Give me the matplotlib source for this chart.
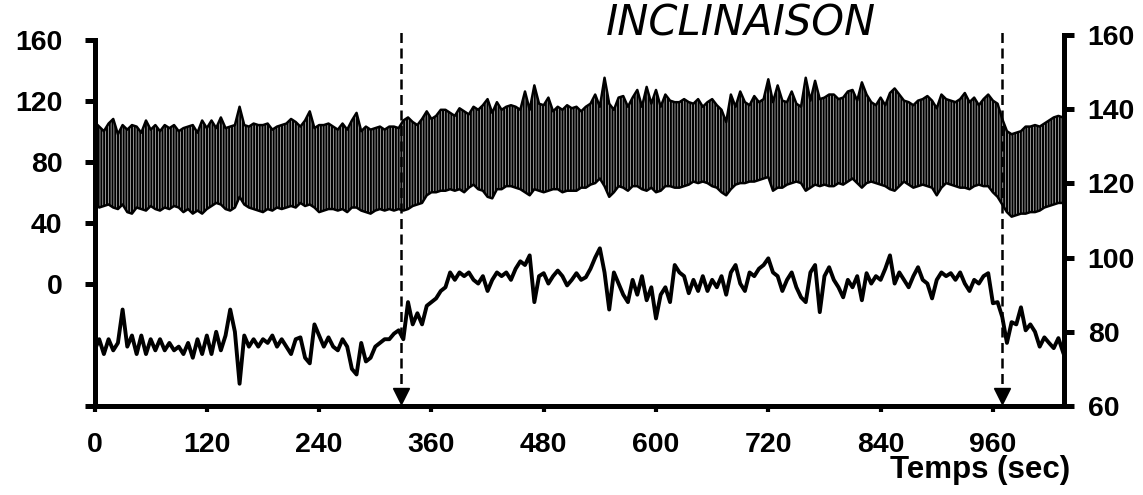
import numpy as np
import matplotlib
matplotlib.use("Agg")
import matplotlib.pyplot as plt
import matplotlib.transforms as mtransforms

# temps (sec), un point toutes les 5 s
step = 5

# pression artérielle : enveloppe systolique (mmHg)
sys_p = [
    106, 103, 100, 105, 108, 98, 104, 101, 104, 103, 99, 107,
    101, 104, 100, 104, 102, 104, 100, 102, 103, 104, 99, 107,
    102, 107, 102, 109, 102, 103, 104, 116, 104, 103, 105, 104,
    104, 105, 101, 103, 104, 105, 108, 106, 103, 107, 113, 102,
    104, 104, 105, 103, 101, 105, 101, 107, 112, 100, 103, 101,
    102, 103, 101, 103, 103, 102, 107, 109, 106, 104, 108, 113,
    108, 110, 114, 114, 112, 110, 115, 113, 111, 116, 114, 117,
    121, 112, 119, 114, 116, 117, 116, 114, 126, 114, 130, 118,
    117, 122, 113, 116, 114, 117, 115, 116, 113, 116, 118, 124,
    116, 135, 118, 114, 122, 123, 116, 122, 127, 116, 129, 118,
    127, 116, 124, 120, 119, 119, 121, 119, 118, 121, 116, 119,
    121, 117, 114, 106, 124, 116, 126, 119, 117, 123, 119, 121,
    134, 119, 130, 120, 119, 126, 118, 116, 135, 120, 133, 121,
    122, 124, 124, 121, 122, 126, 127, 120, 132, 124, 119, 117,
    122, 117, 125, 128, 124, 120, 119, 117, 120, 121, 123, 120,
    115, 124, 121, 120, 119, 121, 125, 119, 122, 117, 121, 124,
    120, 118, 108, 100, 98, 99, 100, 103, 103, 104, 103, 105,
    107, 109, 110, 109,
]

# pression artérielle : enveloppe diastolique (mmHg)
dia_p = [
    54, 50, 51, 52, 50, 49, 52, 47, 46, 50, 49, 48,
    51, 49, 48, 50, 49, 51, 50, 47, 49, 46, 48, 46,
    49, 51, 53, 52, 49, 48, 50, 57, 52, 50, 49, 48,
    47, 49, 48, 50, 49, 50, 51, 50, 53, 51, 52, 50,
    47, 48, 49, 49, 48, 49, 47, 50, 50, 48, 47, 46,
    48, 49, 48, 49, 48, 49, 48, 49, 51, 52, 53, 58,
    60, 60, 61, 61, 62, 61, 62, 60, 63, 65, 62, 61,
    57, 56, 62, 62, 64, 64, 63, 62, 60, 58, 62, 61,
    60, 61, 62, 62, 60, 61, 61, 61, 63, 63, 65, 66,
    69, 64, 57, 60, 64, 63, 61, 64, 64, 62, 61, 63,
    60, 61, 64, 64, 63, 63, 64, 65, 67, 66, 67, 66,
    64, 63, 60, 58, 62, 65, 66, 66, 67, 67, 68, 69,
    70, 61, 63, 63, 65, 66, 67, 66, 61, 63, 65, 64,
    65, 64, 64, 66, 65, 67, 69, 66, 63, 66, 67, 66,
    65, 64, 62, 61, 64, 67, 65, 63, 64, 65, 64, 63,
    58, 63, 66, 65, 64, 63, 63, 62, 64, 65, 64, 64,
    60, 57, 52, 47, 44, 45, 46, 46, 47, 47, 48, 50,
    51, 52, 53, 53,
]

# fréquence cardiaque (bpm), axe de droite
fc = [
    75, 78, 74, 78, 75, 77, 86, 76, 79, 74, 79, 74,
    78, 75, 78, 75, 77, 75, 76, 74, 77, 73, 78, 74,
    79, 74, 80, 75, 79, 86, 80, 66, 79, 76, 78, 76,
    78, 77, 79, 76, 78, 76, 74, 78, 78.5, 73, 71.5, 82,
    79, 76, 78.5, 76, 75, 78, 76, 70, 68.5, 77, 72, 73,
    76, 77, 78, 78, 79.5, 80.4, 78, 88, 82, 85, 82, 87,
    88, 89, 91, 92, 96, 94, 96, 95, 96, 94, 93, 95,
    91, 94, 96, 95, 96, 94, 97, 99, 98, 100.6, 88, 95,
    95.8, 93, 95, 96.5, 95, 92.5, 94, 95.8, 94, 94.7, 97, 100,
    102.5, 96, 86, 96, 93, 90, 88, 94, 90, 95, 88.5, 92,
    83.6, 90, 92, 88, 98, 96, 95, 90.4, 94, 91, 95, 91,
    94, 92, 95, 90, 96, 98, 93, 91, 96, 95, 97, 98,
    99.8, 96, 95, 91, 94, 96, 92, 89.3, 88, 96, 98, 85.3,
    95, 97.4, 94, 92, 89.3, 94, 92, 95, 88.5, 95.8, 93, 95,
    94, 97, 100.6, 93, 96, 94, 92, 95, 97.4, 94, 93, 89,
    94, 96, 95, 95.8, 94, 96, 93, 91, 94, 93, 95, 95.8,
    87.7, 88, 84, 77, 82.6, 82, 86.6, 80.4, 82, 80, 76, 78.5,
    77, 75.6, 78.3, 74.5,
]

# début et fin de l'inclinaison (sec)
events = [327, 970]

x_ticks = [0, 120, 240, 360, 480, 600, 720, 840, 960]
left_ticks = [-80, 0, 40, 80, 120, 160]
left_labels = ["", "0", "40", "80", "120", "160"]
right_ticks = [60, 80, 100, 120, 140, 160]

t = np.arange(len(fc)) * step

plt.rcParams["hatch.linewidth"] = 1.5
plt.rcParams["font.family"] = "Liberation Sans"
plt.rcParams["font.weight"] = "bold"

fig = plt.figure(figsize=(11.43, 4.95), dpi=100)
ax = fig.add_axes([0.0827, 0.1798, 0.9309 - 0.0827, 0.9293 - 0.1798])
ax2 = ax.twinx()

# signal de pression pulsatile
ax.fill_between(t, dia_p, sys_p, facecolor="#d0d0d0", edgecolor="black",
                hatch="||||||", linewidth=0)
ax.plot(t, sys_p, color="black", lw=1.8)
ax.plot(t, dia_p, color="black", lw=1.8)

# fréquence cardiaque
ax2.plot(t, fc, color="black", lw=2.8)

ax.set_xlim(0, 1036)
ax.set_ylim(-80, 163)
ax2.set_ylim(60, 160)

# spines
for s in ["top", "right"]:
    ax.spines[s].set_visible(False)
for s in ["top", "left", "bottom"]:
    ax2.spines[s].set_visible(False)
ax.spines["left"].set_bounds(-80, 160)
for sp in [ax.spines["left"], ax.spines["bottom"], ax2.spines["right"]]:
    sp.set_linewidth(3.6)

ax.set_xticks(x_ticks, [str(v) for v in x_ticks])
ax.set_yticks(left_ticks, left_labels)
ax2.set_yticks(right_ticks, [str(v) for v in right_ticks])

ax.tick_params(axis="x", direction="out", length=4.5, width=3, pad=14,
               labelsize=20.5)
ax.tick_params(axis="y", direction="out", length=7, width=3.6, pad=16,
               labelsize=20.5)
ax2.tick_params(axis="y", direction="out", length=7, width=3.6, pad=10,
                labelsize=20.5)

# lignes pointillées avec flèches
trans = mtransforms.blended_transform_factory(ax.transData, ax.transAxes)
for ev in events:
    ax.plot([ev, ev], [0.02, 1.008], transform=trans, color="black",
            lw=1.8, linestyle=(0, (4, 2.2)), clip_on=False, zorder=5)
    ax.plot([ev], [0.028], transform=trans, marker="v", ms=11,
            color="black", clip_on=False, zorder=6)

fig.text(0.648, 0.929, "INCLINAISON", family="DejaVu Sans", style="italic",
         weight="normal", fontsize=30, ha="center", va="baseline")
fig.text(0.936, 0.05, "Temps (sec)", family="Liberation Sans",
         weight="bold", fontsize=22.5, ha="right", va="center")

fig.savefig("out.png", dpi=100)
